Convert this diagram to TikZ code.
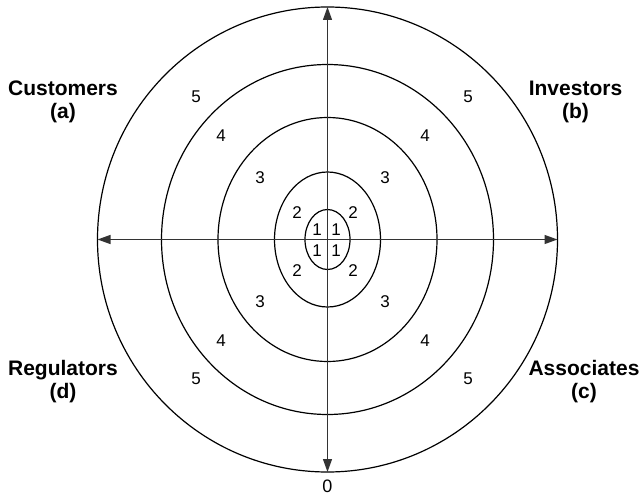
\documentclass[tikz,border=0pt]{standalone}
\usepackage{fontspec}
\setmainfont{Liberation Sans}
\usetikzlibrary{arrows.meta}
\begin{document}
\begin{tikzpicture}[x=1pt,y=-1pt,
  ring/.style={line width=1.2pt,black},
  axis/.style={line width=1.2pt,black!80,{Triangle[length=13pt,width=9pt]}-{Triangle[length=13pt,width=9pt]}},
  num/.style={font=\fontsize{17}{17}\selectfont,inner sep=0pt},
  party/.style={font=\bfseries\fontsize{21}{23}\selectfont,align=center,inner sep=0pt}]
\useasboundingbox (0,0) rectangle (642,495);
\coordinate (c) at (327.5,239.5);
\draw[ring] (c) ellipse [x radius=22.5,y radius=30];
\draw[ring] (c) ellipse [x radius=53,y radius=67.5];
\draw[ring] (c) ellipse [x radius=109.5,y radius=122];
\draw[ring] (c) ellipse [x radius=166,y radius=175];
\draw[ring] (c) ellipse [x radius=230,y radius=232.5];
\coordinate (top) at (327.5,7);
\coordinate (bot) at (327.5,472);
\coordinate (lft) at (97.5,239.5);
\coordinate (rgt) at (557.5,239.5);
\draw[axis] (bot) -- (top);
\draw[axis] (lft) -- (rgt);
% numbers
\foreach \n/\x/\y [count=\i] in {5/196/97,5/468/97,5/196/379,5/468/379,
  4/221/136,4/425/136,4/221/341,4/425/341,
  3/260/178,3/385/178,3/260/302,3/385/302,
  2/297/213,2/353/213,2/297/271,2/353/271,
  1/317/230,1/336/230,1/317/251,1/336/251}
  \node[num] (n\i) at (\x,\y) {\n};
\node[num,font=\fontsize{18}{18}\selectfont] (zero) at (327.5,486) {0};
\node[party] (cust) at (63,102) {Customers\\(a)};
\node[party] (inv) at (575.5,102) {Investors\\(b)};
\node[party] (reg) at (63,382) {Regulators\\(d)};
\node[party] (assoc) at (584,382) {Associates\\(c)};
\end{tikzpicture}
\end{document}
